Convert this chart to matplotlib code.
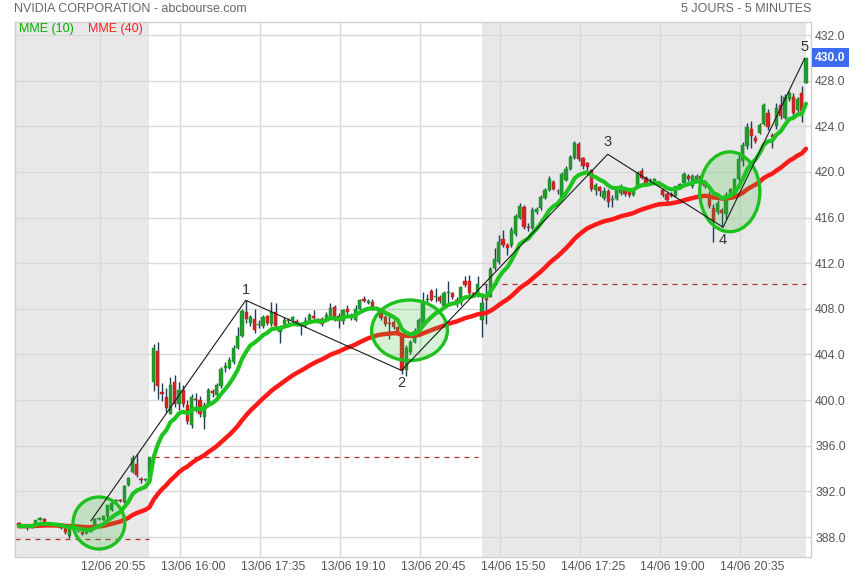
import matplotlib.pyplot as plt
import matplotlib.transforms as mtransforms
from matplotlib.patches import Ellipse
import numpy as np
import pandas as pd

plt.rcParams['font.family'] = ['Liberation Sans', 'DejaVu Sans']

# Bougies 5 minutes : 12/06 (fin de séance), 13/06, 14/06
opens = [
    389.25, 388.95, 389.0, 388.95, 388.95, 389.5, 389.6, 389.1, 389.05, 389.0,
    388.95, 388.75, 388.1, 388.5, 388.5, 388.45, 388.35, 388.45, 388.9, 389.6,
    389.5, 389.8, 390.4, 391.15, 391.2, 391.1, 392.6, 393.7, 394.4, 393.05,
    393.0, 392.95,
    401.6, 404.3, 400.7, 400.3, 398.8, 401.6, 399.65, 400.9, 399.55, 397.85,
    400.1, 400.0, 398.5, 399.65, 400.8, 400.45, 401.2, 402.85, 402.8, 403.3,
    404.6, 405.6, 407.7, 406.8, 407.1, 406.6, 406.5, 407.4, 406.7, 407.7,
    405.95, 406.7, 406.9, 407.0, 406.95, 406.6, 406.55, 406.9, 407.4, 407.05,
    407.1, 406.95, 407.3, 408.2, 407.4, 406.9, 408.0, 407.35, 407.0, 408.0,
    408.85, 408.5, 408.6, 407.95, 407.7, 407.3, 406.75, 406.85, 406.4, 405.7,
    402.6, 404.2, 405.1, 406.0, 406.7, 408.8, 409.6, 409.0, 409.0, 408.25,
    409.35, 409.35, 408.8, 408.5, 410.4, 410.4, 409.4, 409.1,
    407.0, 409.05, 409.05, 411.55, 412.1, 414.1, 413.6, 413.6, 414.6, 416.0,
    416.9, 415.15, 415.1, 416.5, 416.8, 417.7, 418.4, 419.15, 418.35, 417.8,
    419.3, 420.3, 421.2, 422.45, 421.2, 420.75, 420.2, 418.4, 418.65, 417.7,
    418.3, 417.5, 417.6, 418.15, 418.4, 418.3, 418.0, 418.75, 420.05, 419.5,
    419.25, 419.0, 419.05, 418.45, 418.1, 418.1, 417.9, 418.7, 419.05, 419.65,
    418.75, 419.2, 419.65, 419.05, 418.0, 416.85, 416.5, 416.7, 416.3, 417.75,
    418.0, 419.35, 420.95, 422.3, 423.75, 423.0, 423.45, 424.2, 425.2, 423.2,
    424.0, 425.9, 424.75, 426.4, 426.6, 425.4, 426.9, 427.8,
]
highs = [
    389.3, 389.05, 389.05, 389.05, 389.5, 389.75, 389.65, 389.2, 389.15, 389.1,
    389.0, 388.8, 388.75, 388.65, 388.6, 388.5, 388.45, 388.7, 389.7, 389.7,
    389.9, 390.85, 391.1, 391.3, 391.3, 392.6, 393.3, 395.2, 395.3, 393.3,
    393.2, 395.0,
    404.9, 405.1, 401.5, 401.1, 402.0, 402.2, 401.6, 401.3, 400.0, 400.5,
    400.6, 400.4, 399.8, 401.1, 401.0, 401.5, 402.9, 403.3, 403.8, 404.8,
    406.4, 408.0, 408.75, 407.5, 408.0, 407.0, 407.5, 407.5, 408.6, 408.5,
    406.6, 407.3, 407.2, 407.4, 407.1, 406.8, 407.3, 407.6, 407.9, 407.2,
    407.3, 407.7, 408.5, 408.3, 407.6, 408.0, 408.3, 407.6, 408.3, 408.9,
    409.1, 408.9, 408.9, 408.2, 407.9, 407.5, 407.5, 407.0, 406.5, 405.9,
    404.8, 405.3, 406.3, 407.2, 409.5, 409.3, 409.7, 409.8, 409.2, 409.6,
    410.4, 409.5, 409.0, 410.0, 410.9, 411.0, 409.5, 410.9,
    409.35, 410.2, 411.7, 413.3, 414.5, 414.9, 413.8, 415.2, 416.3, 417.3,
    417.1, 415.5, 416.9, 416.9, 418.0, 418.6, 419.6, 419.3, 418.5, 420.0,
    420.5, 421.5, 422.7, 422.6, 421.3, 420.9, 420.3, 419.0, 418.8, 418.7,
    418.5, 418.0, 418.6, 418.9, 418.5, 418.4, 418.6, 420.1, 420.35, 419.6,
    419.5, 419.5, 419.2, 418.6, 418.2, 418.2, 418.8, 419.0, 420.0, 419.8,
    419.8, 419.8, 419.8, 419.3, 418.3, 417.2, 417.5, 416.8, 418.2, 418.6,
    419.5, 421.5, 422.6, 424.3, 424.5, 423.2, 424.3, 426.0, 425.5, 423.4,
    426.0, 426.7, 426.8, 427.1, 426.9, 426.6, 427.5, 430.0,
]
lows = [
    388.9, 388.85, 388.6, 388.8, 388.9, 389.45, 389.1, 389.0, 388.9, 388.85,
    388.7, 388.3, 387.95, 388.4, 388.4, 388.15, 388.3, 388.4, 388.85, 389.5,
    389.45, 389.7, 390.3, 391.0, 391.05, 391.0, 392.5, 393.6, 393.3, 392.7,
    392.9, 392.9,
    400.8, 400.1, 399.9, 399.0, 398.8, 399.4, 399.1, 399.4, 397.9, 397.6,
    399.0, 398.5, 397.5, 399.5, 400.3, 400.3, 401.1, 402.5, 402.7, 403.2,
    404.5, 405.5, 406.8, 406.5, 405.9, 406.3, 406.3, 406.6, 406.5, 406.2,
    405.0, 406.5, 406.6, 406.9, 406.5, 405.7, 406.4, 406.8, 407.1, 406.8,
    406.5, 406.9, 407.2, 406.9, 406.3, 406.7, 407.4, 407.0, 406.9, 407.9,
    408.6, 408.4, 407.9, 407.8, 407.0, 406.5, 405.4, 406.2, 405.7, 402.3,
    402.1, 404.0, 405.0, 405.9, 406.5, 408.6, 408.7, 408.6, 408.5, 408.1,
    408.5, 408.9, 408.2, 408.3, 409.9, 409.2, 409.0, 409.0,
    405.55, 406.7, 409.0, 411.4, 411.9, 413.4, 412.7, 413.4, 414.4, 415.9,
    415.0, 414.8, 415.0, 416.3, 416.7, 417.6, 418.3, 418.4, 418.1, 417.7,
    419.2, 420.2, 421.1, 421.0, 420.3, 420.2, 418.3, 418.0, 417.9, 417.5,
    416.9, 416.9, 417.5, 418.0, 417.9, 417.8, 417.9, 418.6, 419.4, 418.9,
    419.0, 418.9, 418.8, 417.8, 417.4, 417.8, 417.8, 418.6, 419.0, 419.2,
    418.6, 419.1, 418.9, 418.6, 416.8, 413.9, 416.3, 415.2, 415.9, 417.6,
    417.9, 419.2, 420.5, 422.0, 422.1, 422.5, 423.3, 424.1, 423.7, 422.1,
    423.8, 424.6, 424.6, 426.2, 424.9, 425.2, 424.4, 427.8,
]
closes = [
    388.95, 389.0, 388.95, 389.0, 389.45, 389.65, 389.15, 389.1, 389.0, 388.95,
    388.8, 388.4, 388.7, 388.55, 388.5, 388.25, 388.4, 388.65, 389.6, 389.6,
    389.85, 390.8, 391.0, 391.2, 391.15, 392.5, 393.2, 394.9, 393.4, 393.0,
    393.05, 395.0,
    404.6, 401.2, 400.55, 399.3, 401.3, 399.7, 400.9, 399.7, 398.2, 400.3,
    400.05, 398.8, 399.6, 400.9, 400.6, 401.3, 402.75, 402.95, 403.55, 404.6,
    405.65, 407.85, 407.15, 407.25, 406.15, 406.7, 407.25, 406.8, 407.7, 406.5,
    406.4, 407.05, 407.0, 407.25, 406.6, 406.5, 406.95, 407.5, 407.2, 407.0,
    406.7, 407.5, 408.1, 407.0, 406.9, 407.9, 407.7, 407.3, 408.0, 408.8,
    408.7, 408.65, 408.0, 408.05, 407.2, 406.7, 406.7, 406.4, 405.8, 402.6,
    404.55, 405.1, 406.1, 407.0, 408.6, 408.9, 408.8, 409.1, 408.7, 409.35,
    409.45, 409.05, 408.7, 409.9, 410.1, 409.35, 409.3, 410.2,
    408.5, 408.75, 411.5, 412.4, 413.9, 413.6, 413.3, 414.9, 416.1, 417.0,
    415.2, 415.05, 416.7, 416.75, 417.8, 418.4, 419.4, 418.5, 418.3, 419.8,
    420.3, 421.35, 422.5, 421.1, 420.5, 420.4, 418.5, 418.85, 418.3, 418.3,
    417.4, 417.6, 418.5, 418.75, 418.1, 417.95, 418.45, 419.9, 419.5, 419.0,
    419.3, 419.35, 419.0, 417.95, 417.55, 417.9, 418.75, 418.95, 419.8, 419.4,
    419.65, 419.65, 419.05, 418.75, 417.0, 415.7, 417.3, 416.4, 418.0, 418.5,
    419.35, 421.1, 422.4, 423.9, 423.15, 422.7, 424.1, 425.85, 423.9, 423.1,
    425.6, 424.9, 426.6, 426.9, 425.2, 426.4, 425.3, 430.0,
]

tick_pos = [19.25, 38.25, 57.25, 76.25, 95.25, 114.25, 133.25, 152.25, 171.25]
tick_labels = ["12/06 20:55", "13/06 16:00", "13/06 17:35", "13/06 19:10", "13/06 20:45",
               "14/06 15:50", "14/06 17:25", "14/06 19:00", "14/06 20:35"]

# clôture du 11/06 (ligne pointillée de gauche)
prev_close_11 = 387.8

# vagues tracées à la main (index de bougie, prix)
wave_x = [17.1, 53.9, 90.9, 139.9, 167.3, 186.7]
wave_y = [389.43, 408.75, 402.6, 421.55, 415.15, 429.95]
wave_labels = ["1", "2", "3", "4", "5"]
wave_label_y = [409.65, 401.5, 422.6, 414.0, 430.95]

# cercles verts (centre x, centre y, largeur, hauteur)
circles = [(19.0, 389.23, 12.3, 4.56), (92.8, 406.12, 18.0, 5.31), (168.9, 418.26, 14.3, 7.0)]

o = np.array(opens)
h = np.array(highs)
l = np.array(lows)
c = np.array(closes)
x = np.arange(len(c))

ema10 = pd.Series(c).ewm(span=10, adjust=False).mean()
ema40 = pd.Series(c).ewm(span=40, adjust=False).mean()

fig = plt.figure(figsize=(8.6, 5.8), dpi=100)
ax = fig.add_axes([15 / 860, 23 / 580, 796 / 860, 535 / 580])

ax.set_xlim(-0.95, 188.2)
ax.set_ylim(386.25, 433.14)

# séances grisées
ax.axvspan(-0.95, 31, color='#e8e8e8', lw=0, zorder=0)
ax.axvspan(110, 187, color='#e8e8e8', lw=0, zorder=0)

ax.set_axisbelow(True)
ax.grid(True, color='#d9d9d9', lw=1)

# clôtures de la veille
dash = dict(color='#a83232', lw=0.9, ls=(0, (4, 4)), zorder=2)
ax.plot([-0.95, 31], [prev_close_11, prev_close_11], **dash)
ax.plot([32, 109], [c[31], c[31]], **dash)
ax.plot([110, 187], [c[109], c[109]], **dash)

# bougies
up = c >= o
bot = np.minimum(o, c)
height = np.maximum(np.abs(c - o), 0.07)
ax.vlines(x, l, h, color='#1f3b57', lw=1.0, zorder=3)
ax.bar(x[up], height[up], bottom=bot[up], width=0.76, color='#1f9e2b',
       edgecolor='#17801f', lw=0.3, zorder=4)
ax.bar(x[~up], height[~up], bottom=bot[~up], width=0.76, color='#d42424',
       edgecolor='#a81c1c', lw=0.3, zorder=4)

# moyennes mobiles exponentielles
ax.plot(x, ema40, color='#ff1a1a', lw=3.2, zorder=5, solid_capstyle='round')
ax.plot(x, ema10, color='#1ec41e', lw=3.0, zorder=5, solid_capstyle='round')

# cercles
for cx, cy, w, hh in circles:
    ax.add_patch(Ellipse((cx, cy), w, hh, facecolor=(0.2, 0.75, 0.2, 0.2),
                         edgecolor='#1ec01e', lw=2.4, zorder=6))

# vagues
ax.plot(wave_x, wave_y, color='#1a1a1a', lw=0.8, zorder=7)
for wx, wy, lab in zip(wave_x[1:], wave_label_y, wave_labels):
    ax.text(wx, wy, lab, ha='center', va='center', fontsize=10.5, color='#333333', zorder=8)

# axes
for s in ax.spines.values():
    s.set_color('#d0d0d0')
    s.set_linewidth(1)

ax.yaxis.tick_right()
ax.set_yticks(np.arange(388, 433, 4))
ax.set_yticklabels([f"{v:.1f}" for v in np.arange(388, 433, 4)])
ax.tick_params(axis='y', length=0, pad=3, labelsize=8.7, labelcolor='#555555')

ax.set_xticks(tick_pos)
ax.set_xticklabels(tick_labels)
ax.tick_params(axis='x', length=0, pad=3, labelsize=8.7, labelcolor='#555555')
offset = mtransforms.ScaledTranslation(13 / 100, 0, fig.dpi_scale_trans)
for lab in ax.get_xticklabels():
    lab.set_transform(lab.get_transform() + offset)

# dernier cours
trans = mtransforms.blended_transform_factory(ax.transAxes, ax.transData) + \
    mtransforms.ScaledTranslation(4 / 100, 0, fig.dpi_scale_trans)
ax.text(1.0, c[-1], f"{c[-1]:.1f}", transform=trans, ha='left', va='center',
        fontsize=8.7, color='white', fontweight='bold',
        bbox=dict(boxstyle='square,pad=0.28', fc='#3d6cf2', ec='none'), clip_on=False)

# en-têtes
fig.text(14 / 860, 1 - 9 / 580, "NVIDIA CORPORATION - abcbourse.com", ha='left', va='center',
         fontsize=9, color='#666666')
fig.text(811 / 860, 1 - 9 / 580, "5 JOURS - 5 MINUTES", ha='right', va='center',
         fontsize=9, color='#666666')
fig.text(19 / 860, 1 - 29 / 580, "MME (10)", ha='left', va='center', fontsize=9, color='#00b000')
fig.text(88 / 860, 1 - 29 / 580, "MME (40)", ha='left', va='center', fontsize=9, color='#ff2020')

fig.savefig("out.png", dpi=100)
